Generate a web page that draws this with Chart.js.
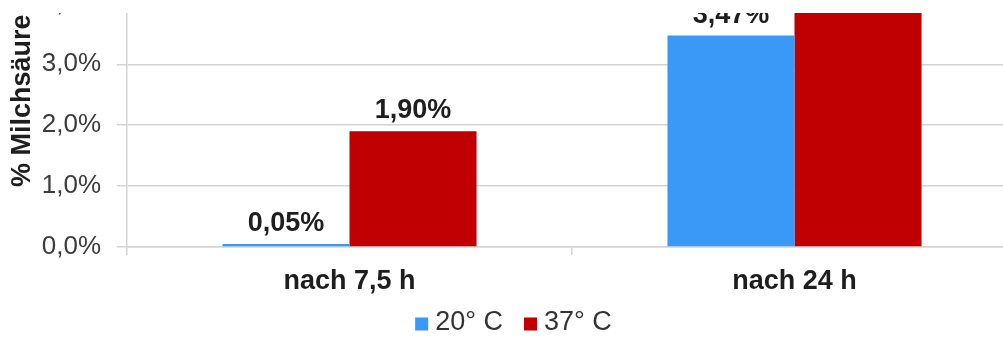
<!DOCTYPE html>
<html>
<head>
<meta charset="utf-8">
<script src="https://cdn.jsdelivr.net/npm/chart.js@4.4.1/dist/chart.umd.min.js"></script>
<style>
  html, body { margin: 0; padding: 0; background: #fff; overflow: hidden; }
  body { width: 1003px; height: 338px; position: relative; }
  #frame { position: absolute; left: 0; top: 13px; width: 1003px; height: 325px; overflow: hidden; background: #fff; }
  #chart { position: absolute; left: 0; top: -90px; }
</style>
</head>
<body>
<div id="frame"><canvas id="chart" width="1017" height="424"></canvas></div>
<script>
// Milchsäuregehalt nach Bebrütungsdauer und Temperatur
const categories = ['nach 7,5 h', 'nach 24 h'];
const seriesNames = ['20° C', '37° C'];
const seriesColors = ['#3A99F7', '#C00000'];
const values20 = [0.05, 3.47];
const values37 = [1.90, 4.40];
const yTicks = [0, 1, 2, 3, 4];

const FONT = '"Liberation Sans", Arial, sans-serif';
const fmt = (v, d) => v.toFixed(d).replace('.', ',') + '%';

// value labels above each bar
const valueLabels = {
  id: 'valueLabels',
  afterDatasetsDraw(chart) {
    const ctx = chart.ctx;
    ctx.save();
    ctx.font = 'bold 27px ' + FONT;
    ctx.fillStyle = '#1e1e1e';
    ctx.textAlign = 'center';
    ctx.textBaseline = 'alphabetic';
    chart.data.datasets.forEach((ds, i) => {
      chart.getDatasetMeta(i).data.forEach((bar, j) => {
        ctx.fillText(fmt(ds.data[j], 2), bar.x, bar.y - 13);
      });
    });
    ctx.restore();
  }
};

// compact legend row below the category labels
const legendRow = {
  id: 'legendRow',
  afterDraw(chart) {
    const ctx = chart.ctx;
    const box = 13, textGap = 7, itemGap = 21;
    ctx.save();
    ctx.font = '27px ' + FONT;
    ctx.textBaseline = 'middle';
    ctx.textAlign = 'left';
    const items = chart.data.datasets.map(ds => ({ text: ds.label, color: ds.backgroundColor, w: ctx.measureText(ds.label).width }));
    const total = items.reduce((s, it) => s + box + textGap + it.w, 0) + itemGap * (items.length - 1);
    let x = chart.width / 2 + 5 - total / 2;
    const y = chart.chartArea.bottom + 76;
    items.forEach(it => {
      ctx.fillStyle = it.color;
      ctx.fillRect(x, y - box / 2 + 1, box, box);
      x += box + textGap;
      ctx.fillStyle = '#333333';
      ctx.fillText(it.text, x, y);
      x += it.w + itemGap;
    });
    ctx.restore();
  }
};

new Chart(document.getElementById('chart'), {
  type: 'bar',
  data: {
    labels: categories,
    datasets: [
      { label: seriesNames[0], data: values20, backgroundColor: seriesColors[0] },
      { label: seriesNames[1], data: values37, backgroundColor: seriesColors[1] }
    ]
  },
  plugins: [valueLabels, legendRow],
  options: {
    responsive: false,
    animation: false,
    devicePixelRatio: 1,
    layout: { padding: { top: 24, right: 0, bottom: 50, left: 0 } },
    datasets: { bar: { categoryPercentage: 0.571, barPercentage: 1.0 } },
    plugins: {
      tooltip: { enabled: false },
      legend: { display: false }
    },
    scales: {
      x: {
        afterFit(scale) { scale.height = 50; },
        grid: { drawOnChartArea: false, drawTicks: true, tickLength: 8, color: '#d4d4d4', lineWidth: 1.5 },
        border: { display: true, color: '#d4d4d4', width: 1.5 },
        ticks: { font: { family: FONT, size: 27, weight: 'bold' }, color: '#1e1e1e', padding: 10 }
      },
      y: {
        min: 0,
        max: 4.8,
        afterFit(scale) { scale.width = 127; },
        afterBuildTicks(scale) { scale.ticks = yTicks.map(v => ({ value: v })); },
        grid: { color: '#d4d4d4', lineWidth: 1.5, tickLength: 10 },
        border: { display: true, color: '#d4d4d4', width: 1.5 },
        ticks: {
          font: { family: FONT, size: 26 },
          color: '#3c3c3c',
          padding: 16,
          callback: v => fmt(v, 1)
        },
        title: {
          display: true,
          text: '% Milchsäure',
          font: { family: FONT, size: 27, weight: 'bold' },
          color: '#1e1e1e',
          padding: { top: 6, bottom: 4 }
        }
      }
    }
  }
});
</script>
</body>
</html>
